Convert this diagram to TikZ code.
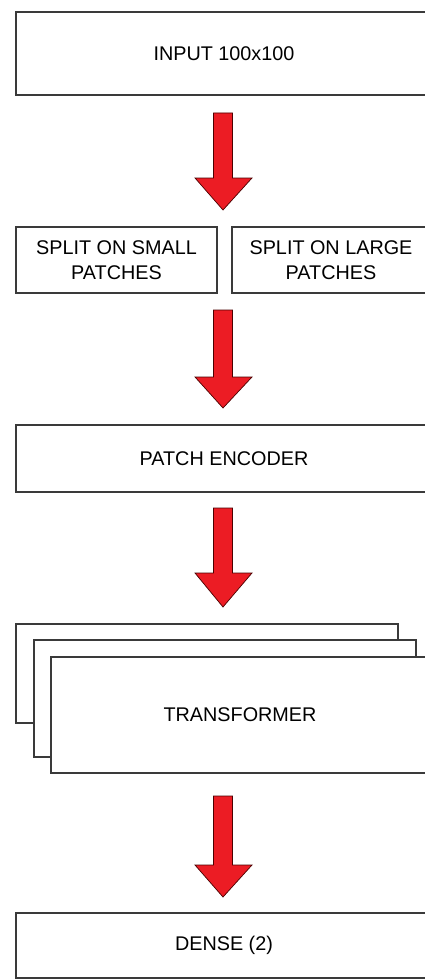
\documentclass[tikz,border=0pt]{standalone}
\usepackage{fontspec}
\setmainfont{Liberation Sans}
\definecolor{arrred}{HTML}{EC1C24}
\definecolor{boxline}{HTML}{3A3A3A}
\newcommand{\redarr}[3]{%
  \draw[arrowshape] (213.5,#1) -- (232.5,#1) -- (232.5,#2) -- (252,#2) -- (223,#3) -- (195,#2) -- (213.5,#2) -- cycle;}
\begin{document}
\begin{tikzpicture}[x=1pt,y=-1pt,
  box/.style={draw=boxline,line width=1.6pt,fill=white,inner sep=0pt,font=\fontsize{19.8}{25}\selectfont,align=center},
  arrowshape/.style={fill=arrred,draw=black!70!red,line width=0.7pt,line join=miter}]
\clip (0,0) rectangle (425,979);
\fill[white] (0,0) rectangle (425,979);
% input
\node[box,minimum width=416pt,minimum height=83pt] (input) at (224,53.5) {INPUT 100x100};
\redarr{113}{178}{210}
% split
\node[box,minimum width=201pt,minimum height=66pt] (small) at (116.5,260) {SPLIT ON SMALL\\PATCHES};
\node[box,minimum width=198pt,minimum height=66pt] (large) at (331,260) {SPLIT ON LARGE\\PATCHES};
\redarr{310}{377}{408}
% patch encoder
\node[box,minimum width=416pt,minimum height=67pt] (enc) at (224,458.5) {PATCH ENCODER};
\redarr{508}{573}{607}
% transformer stack
\node[box,minimum width=382pt,minimum height=99pt] (t1) at (207,673.5) {};
\node[box,minimum width=382pt,minimum height=117pt] (t2) at (225,698.5) {};
\node[box,minimum width=378pt,minimum height=116pt] (t3) at (240,715) {TRANSFORMER};
\redarr{796}{865}{897}
% dense
\node[box,minimum width=416pt,minimum height=65pt] (dense) at (224,945.5) {DENSE (2)};
\end{tikzpicture}
\end{document}
